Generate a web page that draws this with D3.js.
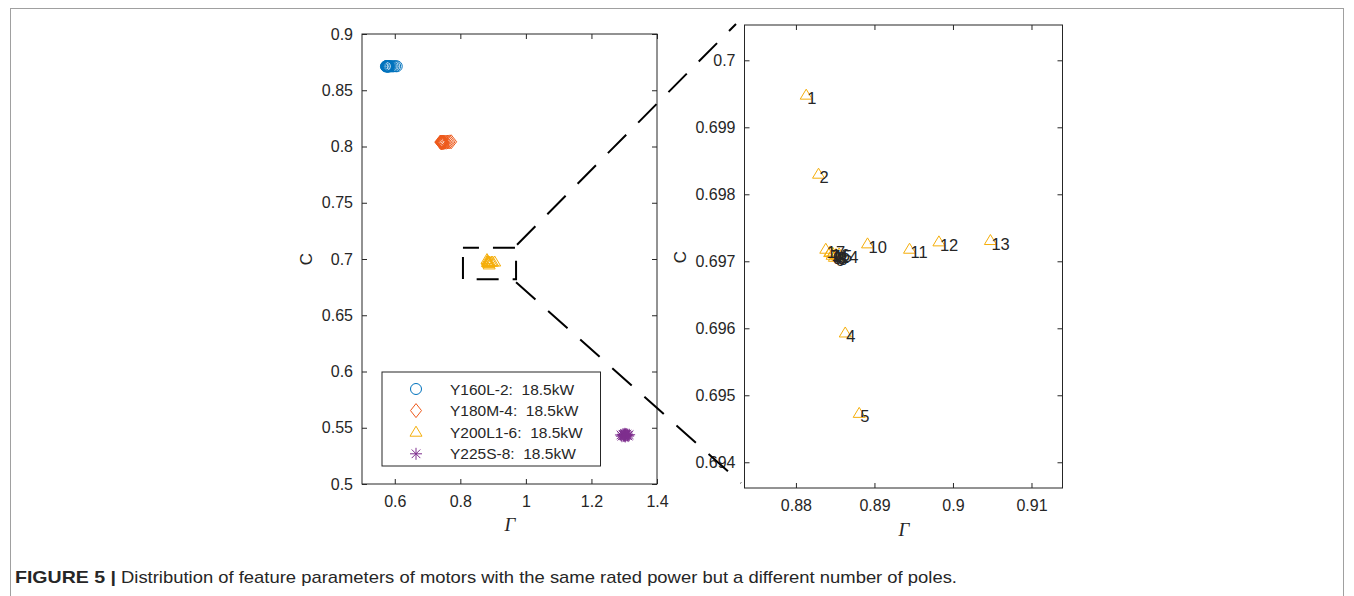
<!DOCTYPE html>
<html>
<head>
<meta charset="utf-8">
<script src="https://cdn.jsdelivr.net/npm/d3@7"></script>
<style>
  body { margin: 0; background: #fff; }
  svg { display: block; }
  text { font-family: "Liberation Sans", Arial, Helvetica, sans-serif; fill: #262626; }
</style>
</head>
<body>
<div id="chart"></div>
<script>
// ---- data ----
let y160Gamma = [0.573, 0.574, 0.575, 0.576, 0.577, 0.578, 0.578, 0.579, 0.580, 0.581, 0.582, 0.584, 0.587, 0.591, 0.596, 0.601, 0.606];
let y160C     = [0.8712, 0.8714, 0.8711, 0.8713, 0.8715, 0.8712, 0.8714, 0.8713, 0.8711, 0.8714, 0.8712, 0.8713, 0.8714, 0.8712, 0.8713, 0.8714, 0.8713];

let y180Gamma = [0.739, 0.740, 0.741, 0.742, 0.742, 0.743, 0.744, 0.745, 0.746, 0.747, 0.748, 0.750, 0.753, 0.757, 0.762, 0.767, 0.772];
let y180C     = [0.8040, 0.8038, 0.8036, 0.8039, 0.8037, 0.8035, 0.8038, 0.8036, 0.8039, 0.8037, 0.8038, 0.8036, 0.8039, 0.8038, 0.8040, 0.8041, 0.8042];

// Y200L1-6, motors 1..17 (also shown in the zoomed panel)
let y200Gamma = [0.88131, 0.88288, 0.8851, 0.88628, 0.88806, 0.8849, 0.8843, 0.8853, 0.8846, 0.88912, 0.89447, 0.89821, 0.90477, 0.8855, 0.8847, 0.8844, 0.8838];
let y200C     = [0.69948, 0.69830, 0.69710, 0.69593, 0.69473, 0.69706, 0.69713, 0.69708, 0.69709, 0.69726, 0.69718, 0.69729, 0.69731, 0.69711, 0.69712, 0.69714, 0.69718];
let y200Labels = ["1","2","3","4","5","6","7","8","9","10","11","12","13","14","15","16","17"];

let y225Gamma = [1.290, 1.293, 1.296, 1.298, 1.299, 1.300, 1.301, 1.302, 1.302, 1.303, 1.304, 1.305, 1.306, 1.308, 1.310, 1.312, 1.315];
let y225C     = [0.5436, 0.5425, 0.5442, 0.5430, 0.5440, 0.5428, 0.5436, 0.5446, 0.5433, 0.5422, 0.5441, 0.5431, 0.5437, 0.5444, 0.5434, 0.5426, 0.5438];

let legendNames = ["Y160L-2:  18.5kW", "Y180M-4:  18.5kW", "Y200L1-6:  18.5kW", "Y225S-8:  18.5kW"];

let leftXTicks = [0.6, 0.8, 1, 1.2, 1.4];
let leftXLabels = ["0.6", "0.8", "1", "1.2", "1.4"];
let leftYTicks = [0.5, 0.55, 0.6, 0.65, 0.7, 0.75, 0.8, 0.85, 0.9];
let leftYLabels = ["0.5", "0.55", "0.6", "0.65", "0.7", "0.75", "0.8", "0.85", "0.9"];

let rightXTicks = [0.88, 0.89, 0.9, 0.91];
let rightXLabels = ["0.88", "0.89", "0.9", "0.91"];
let rightYTicks = [0.694, 0.695, 0.696, 0.697, 0.698, 0.699, 0.7];
let rightYLabels = ["0.694", "0.695", "0.696", "0.697", "0.698", "0.699", "0.7"];

// zoom window drawn on the left axes
let zoomBoxGamma = [0.808, 0.97];
let zoomBoxC = [0.682, 0.710];

// ---- setup ----
let W = 1354, H = 596;
let svg = d3.select("#chart").append("svg").attr("width", W).attr("height", H);

svg.append("rect")
  .attr("x", 10.5).attr("y", 8.5).attr("width", 1333).attr("height", 640)
  .attr("fill", "none").attr("stroke", "#a0a0a0");

let colBlue = "#0072BD", colOrange = "#EE5A1C", colYellow = "#F5AE0A", colPurple = "#7E2F8E";

// marker shapes (MATLAB-like)
let markers = {
  circle: "M5.5,0A5.5,5.5 0 1,1 -5.5,0A5.5,5.5 0 1,1 5.5,0Z",
  diamond: "M0,-7L5.5,0L0,7L-5.5,0Z",
  triangle: "M0,-6L6,4L-6,4Z",
  star: "M-6,0L6,0M0,-6L0,6M-4.3,-4.3L4.3,4.3M-4.3,4.3L4.3,-4.3"
};

let xL = d3.scaleLinear().domain([0.5, 1.4]).range([362, 657]);
let yL = d3.scaleLinear().domain([0.5, 0.9]).range([484, 34]);

let xR = d3.scaleLinear().domain([0.87345, 0.91395]).range([744.5, 1062.5]);
let yR = d3.scaleLinear().domain([0.693616, 0.700527]).range([488, 25]);

function drawAxes(x, y, xt, xl, yt, yl) {
  let g = svg.append("g");
  let x0 = x.range()[0], x1 = x.range()[1];
  let y0 = y.range()[0], y1 = y.range()[1];

  g.append("g").attr("transform", "translate(0," + y0 + ")")
    .call(d3.axisBottom(x).tickValues(xt).tickFormat((d, i) => xl[i])
      .tickSizeInner(-5).tickSizeOuter(0).tickPadding(12));
  g.append("g").attr("transform", "translate(0," + y1 + ")")
    .call(d3.axisTop(x).tickValues(xt).tickFormat("").tickSizeInner(-5).tickSizeOuter(0));
  g.append("g").attr("transform", "translate(" + x0 + ",0)")
    .call(d3.axisLeft(y).tickValues(yt).tickFormat((d, i) => yl[i])
      .tickSizeInner(-5).tickSizeOuter(0).tickPadding(9));
  g.append("g").attr("transform", "translate(" + x1 + ",0)")
    .call(d3.axisRight(y).tickValues(yt).tickFormat("").tickSizeInner(-5).tickSizeOuter(0));

  g.selectAll(".domain").remove();
  g.selectAll(".tick line").attr("stroke", "#262626");
  g.selectAll(".tick text")
    .style("font-family", "'Liberation Sans', Arial, sans-serif")
    .style("font-size", "16px")
    .attr("fill", "#262626");

  g.append("rect")
    .attr("x", x0).attr("y", y1).attr("width", x1 - x0).attr("height", y0 - y1)
    .attr("fill", "none").attr("stroke", "#262626").attr("stroke-width", 1);
  return g;
}

function drawSeries(g, x, y, gx, cy, shape, color) {
  g.selectAll(null)
    .data(gx.map((d, i) => ({ g: d, c: cy[i] })))
    .enter()
    .append("path")
    .attr("d", markers[shape])
    .attr("transform", d => "translate(" + x(d.g) + "," + y(d.c) + ")")
    .attr("fill", "none")
    .attr("stroke", color)
    .attr("stroke-width", 1);
}

// ---- left panel ----
drawAxes(xL, yL, leftXTicks, leftXLabels, leftYTicks, leftYLabels);
let leftMarks = svg.append("g");
drawSeries(leftMarks, xL, yL, y160Gamma, y160C, "circle", colBlue);
drawSeries(leftMarks, xL, yL, y180Gamma, y180C, "diamond", colOrange);
drawSeries(leftMarks, xL, yL, y200Gamma, y200C, "triangle", colYellow);
drawSeries(leftMarks, xL, yL, y225Gamma, y225C, "star", colPurple);

svg.append("text")
  .attr("transform", "translate(312,259) rotate(-90)")
  .attr("text-anchor", "middle")
  .style("font-size", "17px")
  .text("C");
svg.append("text")
  .attr("x", 510).attr("y", 531)
  .attr("text-anchor", "middle")
  .style("font-family", "'Liberation Serif', 'Times New Roman', serif")
  .style("font-style", "italic")
  .style("font-size", "19px")
  .text("Γ");

// legend
let legend = svg.append("g");
legend.append("rect")
  .attr("x", 382).attr("y", 372).attr("width", 218.5).attr("height", 94)
  .attr("fill", "#fff").attr("stroke", "#262626").attr("stroke-width", 1);
let legendShapes = ["circle", "diamond", "triangle", "star"];
let legendColors = [colBlue, colOrange, colYellow, colPurple];
legendNames.forEach((name, i) => {
  let ly = 389 + i * 21.6;
  legend.append("path")
    .attr("d", markers[legendShapes[i]])
    .attr("transform", "translate(416," + ly + ")")
    .attr("fill", "none").attr("stroke", legendColors[i]).attr("stroke-width", 1);
  legend.append("text")
    .attr("x", 450).attr("y", ly)
    .attr("dominant-baseline", "central")
    .style("font-size", "15.5px")
    .style("white-space", "pre")
    .attr("fill", "#000")
    .text(name);
});

// dashed zoom rectangle
let bx0 = xL(zoomBoxGamma[0]), bx1 = xL(zoomBoxGamma[1]);
let by0 = yL(zoomBoxC[1]), by1 = yL(zoomBoxC[0]);
svg.append("rect")
  .attr("x", bx0).attr("y", by0).attr("width", bx1 - bx0).attr("height", by1 - by0)
  .attr("fill", "none").attr("stroke", "#000").attr("stroke-width", 2)
  .attr("stroke-dasharray", "22,14").attr("stroke-dashoffset", 6);

// ---- right panel ----
drawAxes(xR, yR, rightXTicks, rightXLabels, rightYTicks, rightYLabels);
let rightMarks = svg.append("g");
drawSeries(rightMarks, xR, yR, y200Gamma, y200C, "triangle", colYellow);
rightMarks.selectAll(null)
  .data(y200Labels)
  .enter()
  .append("text")
  .attr("x", (d, i) => xR(y200Gamma[i]) + 1)
  .attr("y", (d, i) => yR(y200C[i]) + 3)
  .attr("dominant-baseline", "central")
  .style("font-size", "16.5px")
  .attr("fill", "#000")
  .text(d => d);

svg.append("text")
  .attr("transform", "translate(686,257) rotate(-90)")
  .attr("text-anchor", "middle")
  .style("font-size", "17px")
  .text("C");
svg.append("text")
  .attr("x", 904).attr("y", 536)
  .attr("text-anchor", "middle")
  .style("font-family", "'Liberation Serif', 'Times New Roman', serif")
  .style("font-style", "italic")
  .style("font-size", "19px")
  .text("Γ");

// connector lines from the zoom box to the enlarged panel
svg.append("line")
  .attr("x1", bx1 + 1).attr("y1", by0 - 3).attr("x2", 736).attr("y2", 24)
  .attr("stroke", "#000").attr("stroke-width", 2).attr("stroke-dasharray", "26,17");
svg.append("line")
  .attr("x1", bx1).attr("y1", by1 + 3).attr("x2", 741).attr("y2", 483)
  .attr("stroke", "#000").attr("stroke-width", 2).attr("stroke-dasharray", "26,17");

// ---- caption ----
svg.append("text")
  .attr("x", 15).attr("y", 583)
  .attr("textLength", 101).attr("lengthAdjust", "spacingAndGlyphs")
  .style("font-family", "'Liberation Sans Narrow', 'Liberation Sans', Arial, sans-serif")
  .style("font-weight", "bold")
  .style("font-size", "17px")
  .attr("fill", "#000")
  .text("FIGURE 5 |");
svg.append("text")
  .attr("x", 121).attr("y", 583)
  .attr("textLength", 836).attr("lengthAdjust", "spacingAndGlyphs")
  .style("font-family", "'Liberation Sans Narrow', 'Liberation Sans', Arial, sans-serif")
  .style("font-size", "17px")
  .attr("fill", "#000")
  .text("Distribution of feature parameters of motors with the same rated power but a different number of poles.");
</script>
</body>
</html>
